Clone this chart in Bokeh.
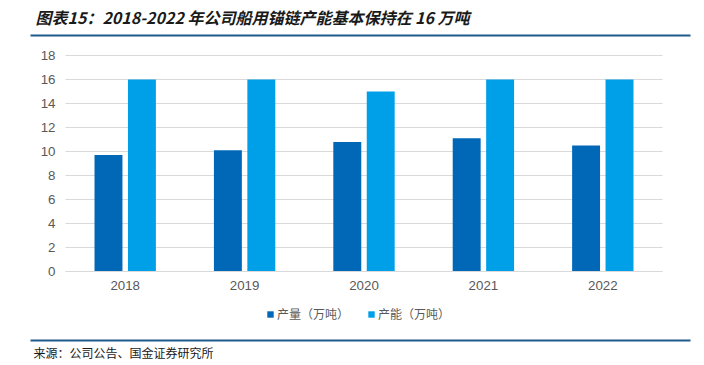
from bokeh.plotting import figure
from bokeh.models import (FactorRange, ColumnDataSource, Range1d, FixedTicker,
                          Legend, LegendItem)
from bokeh.transform import dodge
from bokeh.core.properties import value
from bokeh.embed import file_html
from bokeh.resources import INLINE

years = ["2018", "2019", "2020", "2021", "2022"]
output = [9.7, 10.1, 10.8, 11.1, 10.5]
capacity = [16, 16, 15, 16, 16]
y_ticks = [0, 2, 4, 6, 8, 10, 12, 14, 16, 18]
series_names = ["产量（万吨）", "产能（万吨）"]
title_text = "图表15：2018-2022 年公司船用锚链产能基本保持在 16 万吨"
source_text = "来源：公司公告、国金证券研究所"

DARK = "#0068B7"
LIGHT = "#00A0E9"
RULE = "#1F5A8A"
GRAY = "#595959"

W, H = 704, 365
LEFT = 23                      # frame starts here; frame spans the rest of the page
CAT_L, CAT_R = 65, 662         # pixel span of the category band
PLOT_T, PLOT_B = 55, 271       # pixel rows of y = 18 and y = 0
n = len(years)
unit = (CAT_R - CAT_L) / n
pad = (CAT_L - LEFT) / unit    # padding per side (frame right edge = 704)
ymax = max(y_ticks)
py = (PLOT_B - PLOT_T) / ymax
y_start = -(H - PLOT_B) / py
y_end = ymax + PLOT_T / py


def sx(px):
    """page pixel column -> synthetic categorical coordinate"""
    return (px - CAT_L) / unit


src = ColumnDataSource(dict(year=years, output=output, capacity=capacity))
p = figure(width=W, height=H, title=None,
           x_range=FactorRange(*years, range_padding=pad, range_padding_units="absolute"),
           y_range=Range1d(y_start, y_end),
           output_backend="svg", toolbar_location=None)
p.min_border = 0
p.min_border_left = LEFT
p.outline_line_color = None
p.background_fill_color = "white"
p.xgrid.visible = False

# pixel-row range for the page decorations (title, rules, source)
p.extra_y_ranges = {"py": Range1d(H, 0)}

g = p.ygrid[0]
g.grid_line_color = "#D9D9D9"
g.grid_line_width = 1
if "cross_bounds" in g.properties():
    g.cross_bounds = (0, n)
else:
    g.visible = False
    p.segment(x0=[0] * len(y_ticks), x1=[n] * len(y_ticks), y0=y_ticks, y1=y_ticks,
              line_color="#D9D9D9", line_width=1)

r1 = p.vbar(x=dodge("year", -0.14, range=p.x_range), top="output", width=0.234,
            source=src, fill_color=DARK, line_color=None)
r2 = p.vbar(x=dodge("year", 0.14, range=p.x_range), top="capacity", width=0.234,
            source=src, fill_color=LIGHT, line_color=None)

p.yaxis.fixed_location = 0
p.yaxis.ticker = FixedTicker(ticks=y_ticks)
p.yaxis.axis_line_color = None
p.yaxis.major_tick_line_color = None
p.yaxis.minor_tick_line_color = None
p.yaxis.major_tick_out = 0
p.yaxis.major_tick_in = 0
p.yaxis.major_label_standoff = 10

p.xaxis.fixed_location = 0
p.xaxis.bounds = (0, n)
p.xaxis.axis_line_color = "#D9D9D9"
p.xaxis.major_tick_line_color = None
p.xaxis.major_tick_out = 0
p.xaxis.major_tick_in = 0
p.xaxis.major_label_standoff = 9
for ax in (p.xaxis, p.yaxis):
    ax.major_label_text_font = "Liberation Sans"
    ax.major_label_text_font_size = "10pt"
    ax.major_label_text_color = GRAY

legend = Legend(items=[LegendItem(label=series_names[0], renderers=[r1]),
                       LegendItem(label=series_names[1], renderers=[r2])],
                orientation="horizontal", location=(243, 43),
                glyph_width=8, glyph_height=8, label_height=14, label_standoff=3,
                spacing=18, padding=0, margin=0, border_line_color=None,
                background_fill_alpha=0,
                label_text_font="Noto Sans CJK SC", label_text_font_size="9pt",
                label_text_color=GRAY)
p.add_layout(legend)

# page decorations
p.text(x=[sx(35)], y=[16], text=[title_text], y_range_name="py",
       text_font=value("Noto Sans CJK SC"), text_font_size="16px",
       text_font_style="bold italic", text_color="#1A1A1A",
       text_baseline="middle", text_align="left")
p.segment(x0=[sx(30), sx(30)], y0=[35, 340], x1=[sx(690), sx(690)], y1=[35, 340],
          y_range_name="py", line_color=RULE, line_width=2)
p.text(x=[sx(33)], y=[352], text=[source_text], y_range_name="py",
       text_font=value("Noto Sans CJK SC"), text_font_size="12px",
       text_color="#1A1A1A", text_baseline="middle", text_align="left")

open("out.html", "w").write(file_html(p, INLINE))
